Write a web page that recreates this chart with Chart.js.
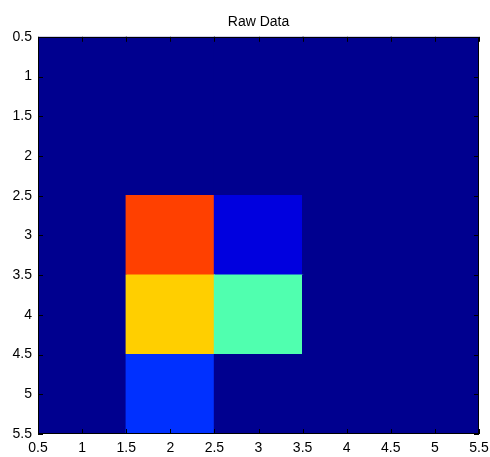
<!DOCTYPE html>
<html>
<head>
<meta charset="utf-8">
<script src="https://cdn.jsdelivr.net/npm/chart.js@4/dist/chart.umd.min.js"></script>
<style>
html,body{margin:0;padding:0;background:#fff;}
canvas{display:block;}
</style>
</head>
<body>
<canvas id="c" width="490" height="457"></canvas>
<script>
// Grid of the image (rows top to bottom, columns left to right)
const rowLabels = [1, 2, 3, 4, 5];
const colLabels = [1, 2, 3, 4, 5];
// Direct colormap indices (1..64 into jet)
const row1 = [1, 1, 1, 1, 1];
const row2 = [1, 1, 1, 1, 1];
const row3 = [1, 52, 6, 1, 1];
const row4 = [1, 43, 29, 1, 1];
const row5 = [1, 11, 1, 1, 1];
const matrix = [row1, row2, row3, row4, row5];
const titleText = 'Raw Data';
const axisMin = 0.5, axisMax = 5.5, tickStep = 0.5;

// MATLAB jet(64) colormap
function jet(k, m) {
  m = m || 64;
  const n = Math.ceil(m / 4);
  const u = [];
  for (let i = 1; i <= n; i++) u.push(i / n);
  for (let i = 1; i < n; i++) u.push(1);
  for (let i = n; i >= 1; i--) u.push(i / n);
  const g0 = Math.ceil(n / 2) - (m % 4 === 1 ? 1 : 0);
  const get = (off) => { const j = k - off; return (j >= 1 && j <= u.length) ? u[j - 1] : 0; };
  const g = get(g0), r = get(g0 + n), b = get(g0 - n);
  const h = v => Math.round(v * 255);
  return 'rgb(' + h(r) + ',' + h(g) + ',' + h(b) + ')';
}

const points = [];
const colors = [];
rowLabels.forEach((r, ri) => {
  colLabels.forEach((c, ci) => {
    points.push({ y: r, x: [c - 0.5, c + 0.5] });
    colors.push(jet(matrix[ri][ci]));
  });
});

const fontFamily = '"Liberation Sans", Arial, sans-serif';

const framePlugin = {
  id: 'frame',
  afterDatasetsDraw(chart) {
    const { ctx, chartArea: a, scales } = chart;
    ctx.save();
    ctx.strokeStyle = '#000';
    ctx.lineWidth = 1;
    const tl = 5;
    ctx.beginPath();
    scales.x.ticks.forEach(t => {
      const px = Math.round(scales.x.getPixelForValue(t.value)) + 0.5;
      ctx.moveTo(px, a.bottom); ctx.lineTo(px, a.bottom - tl);
      ctx.moveTo(px, a.top); ctx.lineTo(px, a.top + tl);
    });
    scales.y.ticks.forEach(t => {
      const py = Math.round(scales.y.getPixelForValue(t.value)) + 0.5;
      ctx.moveTo(a.left, py); ctx.lineTo(a.left + tl, py);
      ctx.moveTo(a.right, py); ctx.lineTo(a.right - tl, py);
    });
    ctx.stroke();
    ctx.strokeRect(Math.round(a.left) + 0.5, Math.round(a.top) + 0.5,
      Math.round(a.right - a.left) - 1, Math.round(a.bottom - a.top) - 1);
    ctx.restore();
  }
};

new Chart(document.getElementById('c'), {
  type: 'bar',
  data: {
    datasets: [{
      data: points,
      backgroundColor: colors,
      borderWidth: 0,
      inflateAmount: 0.6,
      barPercentage: 1,
      // tick spacing (0.5) halves the ruler; 2 makes each cell one full unit tall
      categoryPercentage: 2
    }]
  },
  options: {
    indexAxis: 'y',
    responsive: false,
    animation: false,
    devicePixelRatio: 1,
    layout: { padding: { left: 0, right: 0, top: 0, bottom: 0 } },
    plugins: {
      legend: { display: false },
      tooltip: { enabled: false },
      title: {
        display: true,
        fullSize: false,
        text: titleText,
        color: '#000',
        font: { family: fontFamily, size: 14, weight: 'normal' },
        padding: { top: 14, bottom: 6 }
      }
    },
    scales: {
      x: {
        type: 'linear',
        min: axisMin, max: axisMax,
        offset: false,
        grid: { display: false, drawTicks: false },
        border: { display: false },
        afterFit(s) { s.height = 23; s.paddingRight = 11; s.paddingLeft = 0; },
        ticks: {
          stepSize: tickStep,
          padding: 6,
          color: '#000',
          maxRotation: 0,
          autoSkip: false,
          font: { family: fontFamily, size: 14 },
          callback: v => String(v)
        }
      },
      y: {
        type: 'linear',
        reverse: true,
        offset: false,
        min: axisMin, max: axisMax,
        grid: { display: false, drawTicks: false },
        border: { display: false },
        afterFit(s) { s.width = 38; s.paddingTop = 0; s.paddingBottom = 0; },
        ticks: {
          stepSize: tickStep,
          padding: 6,
          color: '#000',
          autoSkip: false,
          font: { family: fontFamily, size: 14 },
          callback: v => String(v)
        }
      }
    }
  },
  plugins: [framePlugin]
});
</script>
</body>
</html>
